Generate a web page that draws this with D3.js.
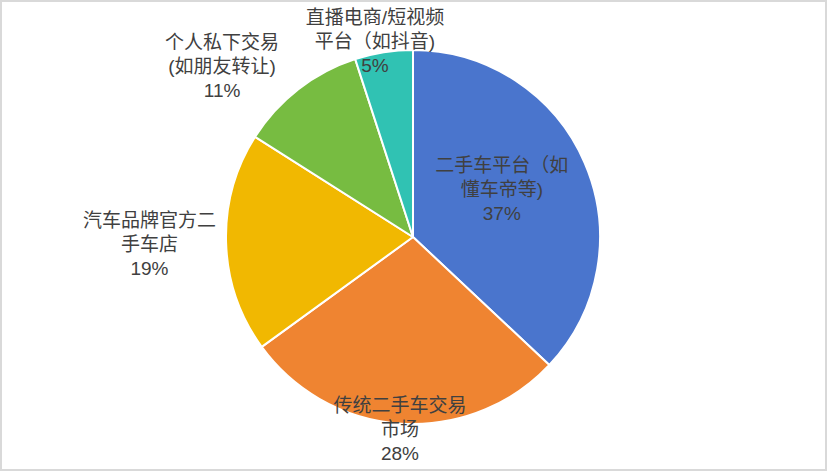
<!DOCTYPE html>
<html>
<head>
<meta charset="utf-8">
<script src="https://cdn.jsdelivr.net/npm/d3@7"></script>
<style>
  html, body { margin: 0; padding: 0; background: #fff; }
  svg { display: block; }
</style>
</head>
<body>
<svg id="chart" width="830" height="474"></svg>
<script>
// ---- data ----
const categories = [
  ["二手车平台（如", "懂车帝等)"],
  ["传统二手车交易", "市场"],
  ["汽车品牌官方二", "手车店"],
  ["个人私下交易", "(如朋友转让)"],
  ["直播电商/短视频", "平台（如抖音)"]
];
const values = [37, 28, 19, 11, 5];
const valueLabels = ["37%", "28%", "19%", "11%", "5%"];

// ---- style / layout ----
const colors = ["#4A75CD", "#EF8431", "#F1B801", "#77BC41", "#30C2B3"];
const labelAngleOffset = [-5, 0.3, 0.3, -10.4, -2];   // degrees
const labelRadiusFactor = [0.54, 1.03, 1.41, 1.37, 1.065];

const W = 830, H = 474;
const cx = 413, cy = 237, R = 187;
const svg = d3.select("#chart");

svg.append("rect")
  .attr("x", 1).attr("y", 1).attr("width", 825).attr("height", 469)
  .attr("fill", "#fff").attr("stroke", "#d9d9d9").attr("stroke-width", 2);

const pie = d3.pie().value(d => d).sort(null);
const arcs = pie(values);
const arc = d3.arc().innerRadius(0).outerRadius(R);

const g = svg.append("g").attr("transform", `translate(${cx},${cy})`);

g.selectAll("path.slice")
  .data(arcs)
  .join("path")
  .attr("class", "slice")
  .attr("d", arc)
  .attr("fill", (d, i) => colors[i])
  .attr("stroke", "#fff")
  .attr("stroke-width", 2)
  .attr("stroke-linejoin", "round");

const lineH = 24;
const fontSize = 19;
const labels = g.selectAll("text.lbl")
  .data(arcs)
  .join("text")
  .attr("class", "lbl")
  .attr("text-anchor", "middle")
  .attr("font-family", "'Liberation Sans', 'Noto Sans CJK SC', sans-serif")
  .attr("font-size", fontSize)
  .attr("fill", "#404040")
  .each(function(d, i) {
    const mid = (d.startAngle + d.endAngle) / 2 + labelAngleOffset[i] * Math.PI / 180;
    const r = R * labelRadiusFactor[i];
    const x = r * Math.sin(mid);
    const y = -r * Math.cos(mid);
    const lines = categories[i].concat([valueLabels[i]]);
    const t = d3.select(this);
    lines.forEach((s, j) => {
      t.append("tspan")
        .attr("x", x)
        .attr("y", y + (j - 1) * lineH + fontSize * 0.35)
        .text(s);
    });
  });
</script>
</body>
</html>
